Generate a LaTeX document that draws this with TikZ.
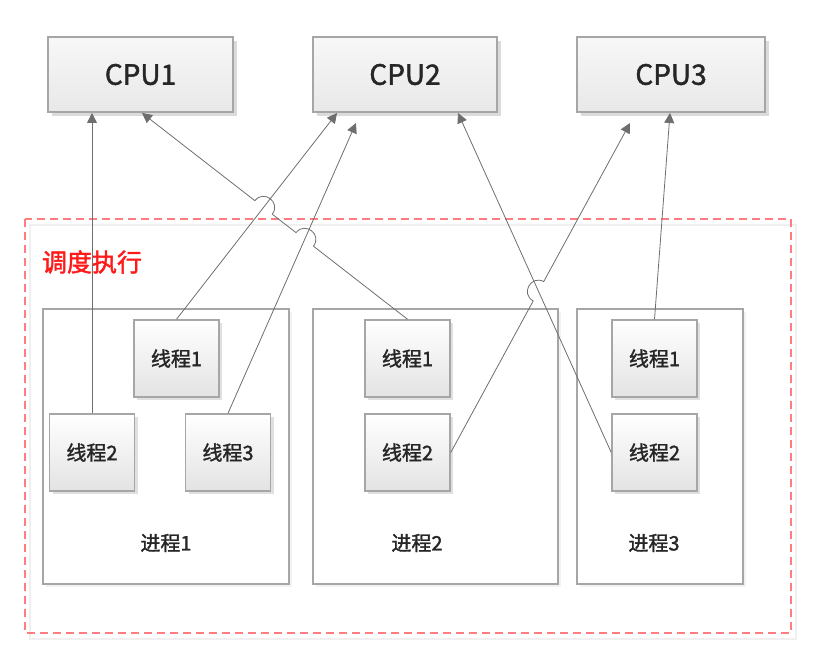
\documentclass[tikz,border=0pt]{standalone}
\usepackage{fontspec}
\setmainfont{Noto Sans CJK SC}
\newfontfamily\medfont{Noto Sans CJK SC}[FakeBold=1.6]
\usetikzlibrary{arrows.meta,calc,shadows}
\definecolor{linegray}{HTML}{6E6E6E}
\definecolor{boxline}{HTML}{A6A6A6}
\definecolor{framered}{HTML}{FF7C80}
\definecolor{textred}{HTML}{FF1A1A}
\tikzset{
  cpubox/.style={draw=boxline, line width=1.5pt, top color=black!3, bottom color=black!9,
    minimum width=185pt, minimum height=75pt, inner sep=0pt, text=black!85,
    font=\fontsize{28}{30}\selectfont\medfont,
    general shadow={fill=black!14, shadow xshift=4pt, shadow yshift=-4pt}},
  thread/.style={draw=boxline, line width=1.5pt, top color=white, bottom color=black!11,
    minimum width=85pt, minimum height=77pt, inner sep=0pt, text=black!85,
    font=\fontsize{20}{22}\selectfont\medfont,
    general shadow={fill=black!12, shadow xshift=3pt, shadow yshift=-3pt}},
  procbox/.style={draw=boxline, line width=1.5pt, fill=white, minimum height=275pt, inner sep=0pt,
    general shadow={fill=black!5, shadow xshift=3pt, shadow yshift=-3pt}},
  proclabel/.style={text=black!85, font=\fontsize{20}{22}\selectfont\medfont},
  conn/.style={draw=linegray, line width=0.8pt, -{Triangle[length=10pt,width=10pt]}},
}
\begin{document}
\begin{tikzpicture}[x=1pt, y=-1pt]
\useasboundingbox (0,0) rectangle (818,660);
% cpus
\node[cpubox] (cpu1) at (140.5,74.5) {CPU1};
\node[cpubox, minimum width=184pt] (cpu2) at (405,74.5) {CPU2};
\node[cpubox, minimum width=188pt] (cpu3) at (671,74.5) {CPU3};
% scheduling frame
\draw[black!6, line width=1.5pt] (30,225) rectangle (796,639);
\draw[framered, line width=1.5pt, dash pattern=on 8pt off 5pt] (25,219) rectangle (791,633);
\node[text=textred, font=\fontsize{25}{27}\selectfont\medfont] (sched) at (92,262) {调度执行};
% processes
\node[procbox, minimum width=246pt] (proc1) at (166,446.5) {};
\node[procbox, minimum width=245pt] (proc2) at (435.5,446.5) {};
\node[procbox, minimum width=166pt] (proc3) at (660,446.5) {};
\node[proclabel] (lbl1) at (166,543) {进程1};
\node[proclabel] (lbl2) at (417,543) {进程2};
\node[proclabel] (lbl3) at (654,543) {进程3};
% threads
\node[thread] (p1t1) at (176.5,358.5) {线程1};
\node[thread] (p1t2) at (92,452.5) {线程2};
\node[thread] (p1t3) at (228,452.5) {线程3};
\node[thread] (p2t1) at (407.5,358.5) {线程1};
\node[thread] (p2t2) at (407.5,452.5) {线程2};
\node[thread] (p3t1) at (654.5,358.5) {线程1};
\node[thread] (p3t2) at (654.5,452.5) {线程2};
% arrow ends under the cpus
\coordinate (c1a) at (92,113);
\coordinate (c1b) at (142,113);
\coordinate (c2a) at (337,113);
\coordinate (c2b) at (356,123);
\coordinate (c2c) at (458,113);
\coordinate (c3a) at (630,123);
\coordinate (c3b) at (670,113);
% line jumps
\coordinate (h1) at (intersection of p2t1.north--c1b and p1t1.north--c2a);
\coordinate (h2) at (intersection of p2t1.north--c1b and p1t3.north--c2b);
\coordinate (h3) at (intersection of p2t2.east--c3a and p3t2.west--c2c);
\draw[conn] (p1t2.north) -- (c1a);
\draw[conn] (p1t1.north) -- (c2a);
\draw[conn] (p1t3.north) -- (c2b);
\draw[conn] (p2t1.north) -- ($(h2)!11pt!(p2t1.north)$)
  to[bend right=90, looseness=1.7] ($(h2)!11pt!(c1b)$) -- ($(h1)!11pt!(p2t1.north)$)
  to[bend right=90, looseness=1.7] ($(h1)!11pt!(c1b)$) -- (c1b);
\draw[conn] (p2t2.east) -- ($(h3)!11pt!(p2t2.east)$)
  to[bend left=90, looseness=1.7] ($(h3)!11pt!(c3a)$) -- (c3a);
\draw[conn] (p3t2.west) -- (c2c);
\draw[conn] (p3t1.north) -- (c3b);
\end{tikzpicture}
\end{document}
